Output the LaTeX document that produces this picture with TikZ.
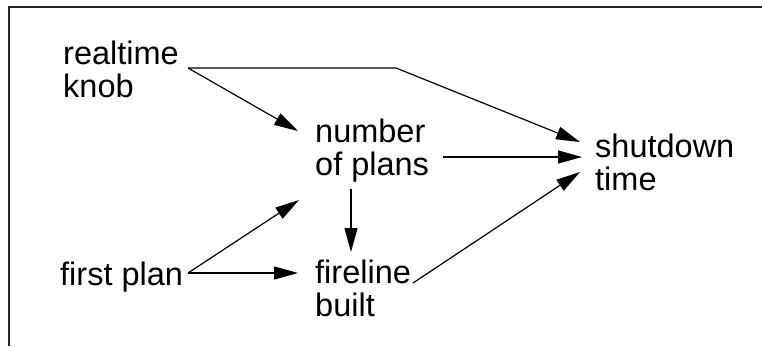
\documentclass[tikz,border=0pt]{standalone}
\usepackage{fontspec}
\setmainfont{Liberation Sans}
\usetikzlibrary{arrows.meta}
\newcommand{\lbltext}[1]{{\fontsize{32.5}{32.5}\selectfont\begin{tabular}[t]{@{}l@{}}#1\end{tabular}}}
\begin{document}
\begin{tikzpicture}[x=1pt,y=-1pt,
  lbl/.style={inner sep=0pt, anchor=base west},
  conn/.style={line width=1.2pt, -{Triangle[length=24pt,width=13pt]}},
  frame/.style={line width=1.7pt, draw=black!85}]
\useasboundingbox (0,0) rectangle (762,346);
\draw[frame] (9,346) -- (9,7) -- (762,7);
% nodes
\node[lbl] (rk) at (63,64) {\lbltext{realtime\\knob}};
\node[lbl] (np) at (315,142) {\lbltext{number\\of plans}};
\node[lbl] (sd) at (595,157) {\lbltext{shutdown\\time}};
\node[lbl] (fp) at (60,285) {\lbltext{first plan}};
\node[lbl] (fb) at (315,283) {\lbltext{fireline\\built}};
% connector end points
\coordinate (rkout) at (188,68);
\coordinate (rkbend) at (396,68);
\coordinate (npin1) at (298,131);
\coordinate (npin2) at (299,200);
\coordinate (npout1) at (443,157);
\coordinate (npout2) at (351,189);
\coordinate (sdin1) at (580,142);
\coordinate (sdin2) at (582,157);
\coordinate (sdin3) at (580,172);
\coordinate (fpout) at (188,273);
\coordinate (fbin1) at (298,273);
\coordinate (fbin2) at (351,252);
\coordinate (fbout) at (413,283);
% connectors
\draw[conn] (rkout) -- (rkbend) -- (sdin1);
\draw[conn] (rkout) -- (npin1);
\draw[conn] (npout1) -- (sdin2);
\draw[conn] (npout2) -- (fbin2);
\draw[conn] (fpout) -- (npin2);
\draw[conn] (fpout) -- (fbin1);
\draw[conn] (fbout) -- (sdin3);
\end{tikzpicture}
\end{document}
